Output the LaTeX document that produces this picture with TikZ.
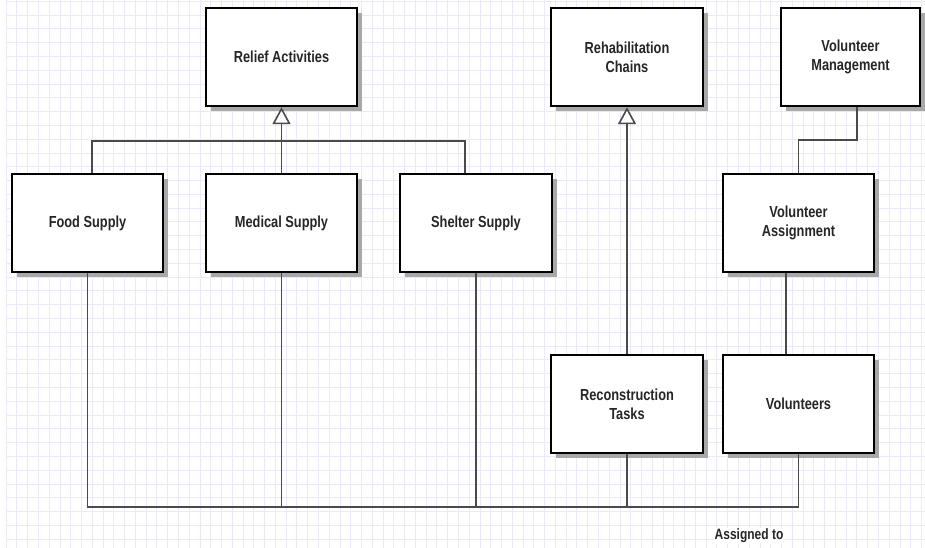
\documentclass[tikz,border=0pt]{standalone}
\usepackage{fontspec}
\setmainfont{Liberation Sans}[FakeStretch=0.8]
\usetikzlibrary{arrows.meta,shadows,calc}
\definecolor{gridline}{HTML}{E9E9F9}
\definecolor{wire}{HTML}{4A4A4A}
\definecolor{ink}{HTML}{262626}
\definecolor{shadowgray}{HTML}{A8A8A8}
\tikzset{
  classbox/.style={draw=black, line width=2.4pt, fill=white,
    minimum height=98pt, text=ink, align=center,
    font=\fontsize{16}{19}\selectfont\bfseries,
    drop shadow={fill=shadowgray, opacity=1, shadow xshift=5pt, shadow yshift=-5pt}},
  wide/.style={classbox, minimum width=151pt},
  link/.style={draw=wire, line width=1.7pt},
  inherit/.style={link, -{Triangle[open, length=17pt, width=18pt, fill=white, line width=1.6pt]}},
  tag/.style={fill=white, inner sep=1pt, text=ink, font=\fontsize{15}{18}\selectfont\bfseries}
}
\begin{document}
\begin{tikzpicture}[x=1pt, y=-1pt]
  \useasboundingbox (0,0) rectangle (925,548);
  \fill[white] (0,0) rectangle (925,548);
  % background grid
  \foreach \i in {0,...,85} {
    \draw[gridline, line width=0.7pt] ({6+\i*10.77},0) -- ({6+\i*10.77},548);
  }
  \foreach \j in {0,...,39} {
    \draw[gridline, line width=0.7pt] (6,{1.2+\j*13.79}) -- (925,{1.2+\j*13.79});
  }

  % classes
  \node[wide] (relief) at (281.5,57) {Relief Activities};
  \node[classbox, minimum width=152pt] (rehab) at (627,57) {Rehabilitation\\Chains};
  \node[classbox, minimum width=139pt] (volmgmt) at (850.5,57) {Volunteer\\Management};
  \node[wide] (food) at (87.5,223) {Food Supply};
  \node[wide] (medical) at (281.5,223) {Medical Supply};
  \node[classbox, minimum width=152pt] (shelter) at (476,223) {Shelter Supply};
  \node[wide] (volassign) at (798.5,223) {Volunteer\\Assignment};
  \node[classbox, minimum width=152pt] (recon) at (627,404) {Reconstruction\\Tasks};
  \node[wide] (volunteers) at (798.5,404) {Volunteers};

  % generalisation of relief activities
  \coordinate (genbar) at (0,141);
  \draw[link] ([xshift=4.5pt]food.north) |- ([xshift=-11pt]shelter.north |- genbar)
    -- ([xshift=-11pt]shelter.north);
  \draw[inherit] (medical.north) -- (relief.south);
  \draw[inherit] (recon.north) -- (rehab.south);

  % volunteer management
  \coordinate (mgmtbar) at (0,140);
  \draw[link] ([xshift=6.5pt]volmgmt.south) |- (volassign.north |- mgmtbar)
    -- (volassign.north);
  \draw[link] ([xshift=-12.5pt]volassign.south) -- ([xshift=-12.5pt]volunteers.north);

  % assignment bus
  \coordinate (bus) at (0,507);
  \draw[link] (food.south) |- (volunteers.south |- bus) -- (volunteers.south);
  \draw[link] (medical.south) -- (medical.south |- bus);
  \draw[link] (shelter.south) -- (shelter.south |- bus);
  \draw[link] (recon.south) -- (recon.south |- bus);

  \node[tag] (assigned) at (749,536) {Assigned to};
\end{tikzpicture}
\end{document}
